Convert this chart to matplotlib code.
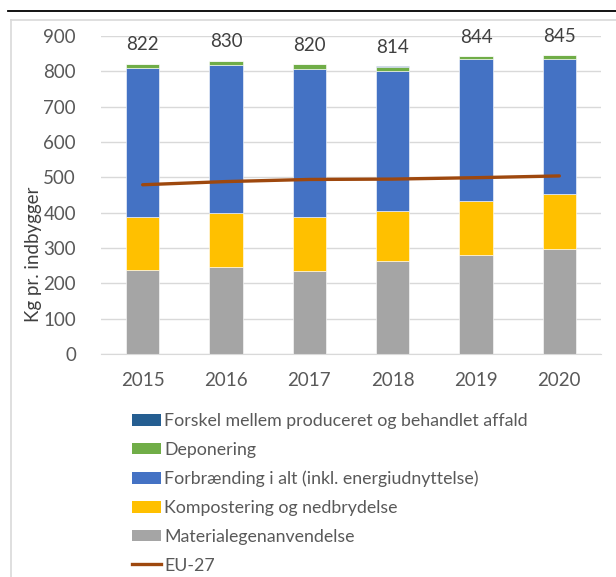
import matplotlib
matplotlib.use("Agg")
import matplotlib.pyplot as plt
from matplotlib.lines import Line2D
from matplotlib.patches import Patch
import numpy as np

years = ["2015", "2016", "2017", "2018", "2019", "2020"]
materiale = [238, 246, 235, 262, 281, 298]
kompost = [150, 153, 153, 143, 152, 155]
forbraending = [422, 419, 420, 395, 401, 382]
deponering = [12, 12, 12, 11, 10, 10]
forskel = [0, 0, 0, 3, 0, 0]
totals = [822, 830, 820, 814, 844, 845]
eu27 = [479, 488, 494, 495, 499, 504]

series_names = ["Materialegenanvendelse", "Kompostering og nedbrydelse",
                "Forbrænding i alt (inkl. energiudnyttelse)", "Deponering",
                "Forskel mellem produceret og behandlet affald"]
series_colors = ["#A5A5A5", "#FFC000", "#4472C4", "#70AD47", "#255E91"]
line_name = "EU-27"
line_color = "#9E480E"

plt.rcParams['font.family'] = ['Lato', 'DejaVu Sans']
W, H = 616, 577
fig = plt.figure(figsize=(W / 100, H / 100), dpi=100)

def fx(px):
    return px / W

def fy(py):
    return 1 - py / H

# frame decorations
fig.add_artist(Line2D([fx(8), fx(616)], [fy(11), fy(11)], color="#000000", lw=1.3))
fig.add_artist(Line2D([fx(11), fx(11)], [fy(20), fy(577)], color="#D9D9D9", lw=1.2))
fig.add_artist(Line2D([fx(11), fx(616)], [fy(20), fy(20)], color="#D9D9D9", lw=1.2))

ax = fig.add_axes([fx(101), fy(354), fx(601) - fx(101), fy(36) - fy(354)])
x = np.arange(len(years))
bottom = np.zeros(len(years))
for vals, name, col in zip([materiale, kompost, forbraending, deponering, forskel],
                           series_names, series_colors):
    ax.bar(x, vals, bottom=bottom, width=0.4, color=col, edgecolor="white",
           linewidth=0.4, label=name, zorder=2)
    bottom += np.array(vals)

ax.plot(x, eu27, color=line_color, lw=2.4, zorder=3, label=line_name,
        solid_capstyle="round")

for xi, t in zip(x, totals):
    ax.annotate(str(t), (xi, t), xytext=(0, 13.5), textcoords="offset points",
                ha="center", va="center", fontsize=13.5, color="#404040",
                annotation_clip=False)

ax.set_xlim(-0.5, len(years) - 0.5)
ax.set_ylim(0, 900)
ax.set_yticks(range(0, 901, 100))
ax.set_xticks(x)
ax.set_xticklabels(years)
ax.tick_params(axis="both", length=0, labelsize=13.5, colors="#595959")
ax.tick_params(axis="y", pad=18)
ax.tick_params(axis="x", pad=13)
ax.grid(axis="y", color="#D9D9D9", lw=1.0, zorder=0)
ax.set_axisbelow(True)
for s in ["top", "right", "left"]:
    ax.spines[s].set_visible(False)
ax.spines["bottom"].set_color("#D9D9D9")

fig.text(fx(34), fy(254), "Kg pr. indbygger", rotation=90, ha="center", va="center",
         fontsize=13.5, color="#404040")

order = series_names[::-1]
leg_handles = [Patch(facecolor=series_colors[series_names.index(n)]) for n in order]
leg_handles.append(Line2D([0], [0], color=line_color, lw=2.4))
leg = fig.legend(leg_handles, order + [line_name], loc="upper left",
                 bbox_to_anchor=(fx(132), fy(413)), frameon=False, fontsize=12.8,
                 handlelength=1.62, handleheight=0.65, handletextpad=0.2,
                 labelspacing=0.72, borderaxespad=0, borderpad=0)
for t in leg.get_texts():
    t.set_color("#595959")

fig.savefig("out.png", dpi=100)
